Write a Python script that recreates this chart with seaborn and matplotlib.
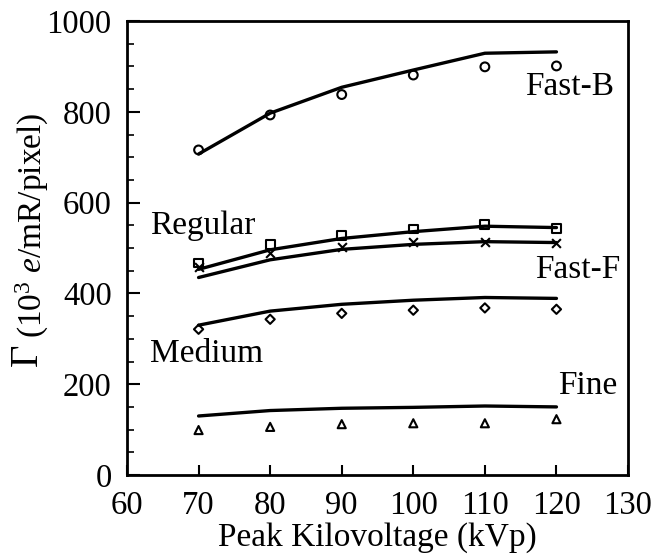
import matplotlib
matplotlib.use("Agg")
import matplotlib.pyplot as plt
import seaborn as sns
import pandas as pd
from matplotlib.ticker import MultipleLocator

kvp = [70, 80, 90, 100, 110, 120]

fastb_pts = [716, 793, 838, 881, 899, 901]
fastb_fit = [707, 797, 854, 892, 929, 932]
regular_pts = [467, 508, 528, 542, 551, 543]
regular_fit = [453, 496, 521, 536, 548, 545]
fastf_pts = [459, 488, 503, 514, 514, 512]
fastf_fit = [435, 474, 497, 508, 514, 512]
medium_pts = [321, 343, 356, 363, 368, 365]
medium_fit = [330, 361, 376, 385, 391, 389]
fine_pts = [99, 106, 112, 114, 114, 123]
fine_fit = [130, 142, 147, 149, 152, 150]

screens = ["Fast-B", "Regular", "Fast-F", "Medium", "Fine"]
markers = {"Fast-B": "o", "Regular": "s", "Fast-F": "x", "Medium": "D", "Fine": "^"}
msizes = {"Fast-B": 40, "Regular": 40, "Fast-F": 40, "Medium": 22, "Fine": 34}

pts = {"Fast-B": fastb_pts, "Regular": regular_pts, "Fast-F": fastf_pts,
       "Medium": medium_pts, "Fine": fine_pts}
fits = {"Fast-B": fastb_fit, "Regular": regular_fit, "Fast-F": fastf_fit,
        "Medium": medium_fit, "Fine": fine_fit}

rows = []
for s in screens:
    for k, p, f in zip(kvp, pts[s], fits[s]):
        rows.append({"kVp": k, "screen": s, "meas": p, "fit": f})
df = pd.DataFrame(rows)

sns.set_style("ticks", {"axes.edgecolor": "black", "xtick.color": "black",
                        "ytick.color": "black", "text.color": "black",
                        "axes.labelcolor": "black"})
plt.rcParams["font.family"] = ["Liberation Serif", "DejaVu Serif"]
plt.rcParams["mathtext.fontset"] = "custom"
plt.rcParams["mathtext.rm"] = "Liberation Serif"
plt.rcParams["mathtext.it"] = "Liberation Serif:italic"

fig = plt.figure(figsize=(6.57, 5.57), dpi=100)
ax = fig.add_axes([0.1933, 0.1472, 0.7626, 0.8151])

sns.lineplot(data=df, x="kVp", y="fit", units="screen", estimator=None,
             color="black", linewidth=2.4, ax=ax, legend=False)
for s in screens:
    sub = df[df["screen"] == s]
    m = markers[s]
    if m == "x":
        sns.scatterplot(data=sub, x="kVp", y="meas", marker="x", color="black",
                        s=msizes[s], linewidth=1.5, ax=ax, legend=False, zorder=3)
    else:
        sns.scatterplot(data=sub, x="kVp", y="meas", marker=m, facecolor="none",
                        edgecolor="black", s=msizes[s], linewidth=1.5, ax=ax,
                        legend=False, zorder=3)

ax.set_xlim(60, 130)
ax.set_ylim(0, 1000)
ax.xaxis.set_major_locator(MultipleLocator(10))
ax.yaxis.set_major_locator(MultipleLocator(200))
ax.yaxis.set_minor_locator(MultipleLocator(50))
ax.tick_params(axis="both", which="major", direction="in", labelsize=23.5,
               width=1.5, length=9, colors="black")
ax.tick_params(axis="y", which="major", pad=11)
ax.tick_params(axis="x", which="major", length=7, pad=11)
ax.tick_params(axis="y", which="minor", direction="in", width=1.2, length=5,
               colors="black")
for sp in ax.spines.values():
    sp.set_linewidth(2)
    sp.set_color("black")
ax.set_xlabel("Peak Kilovoltage (kVp)", fontsize=24, labelpad=1)
ax.set_ylabel("")

fig.text(0.041, 0.363, "Γ", rotation=90, fontsize=28, ha="center", va="center")
fig.text(0.050, 0.596, r"(10$^3$ $\mathit{e}$/mR/pixel)", rotation=90,
         fontsize=24, ha="center", va="center")

lab_kw = dict(fontsize=24, color="black")
ax.text(115.6, 855, "Fast-B", ha="left", va="center", **lab_kw)
ax.text(63.2, 549, "Regular", ha="left", va="center", **lab_kw)
ax.text(117.0, 452, "Fast-F", ha="left", va="center", **lab_kw)
ax.text(63.2, 267, "Medium", ha="left", va="center", **lab_kw)
ax.text(120.2, 196, "Fine", ha="left", va="center", **lab_kw)

fig.savefig("out.png", dpi=100)
